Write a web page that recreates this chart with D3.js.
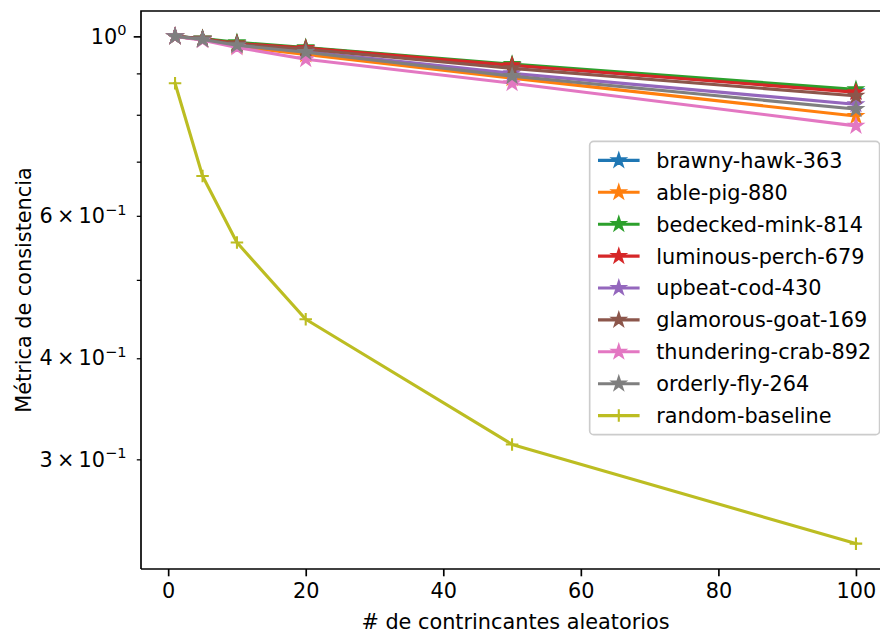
<!DOCTYPE html>
<html>
<head>
<meta charset="utf-8">
<script src="https://cdn.jsdelivr.net/npm/d3@7"></script>
<style>
  html, body { margin: 0; padding: 0; background: #ffffff; }
  svg { display: block; }
  text { font-family: "DejaVu Sans", sans-serif; fill: #000; }
</style>
</head>
<body>
<svg id="chart" width="880" height="634"></svg>
<script>
// ---------------- data ----------------
const xValues = [1, 5, 10, 20, 50, 100];
const seriesNames = [
  "brawny-hawk-363", "able-pig-880", "bedecked-mink-814", "luminous-perch-679",
  "upbeat-cod-430", "glamorous-goat-169", "thundering-crab-892", "orderly-fly-264",
  "random-baseline"
];
const brawnyHawk   = [1.0, 0.993, 0.980, 0.967, 0.921, 0.855];
const ablePig      = [1.0, 0.991, 0.972, 0.950, 0.888, 0.797];
const bedeckedMink = [1.0, 0.994, 0.983, 0.969, 0.924, 0.860];
const luminousPerch= [1.0, 0.993, 0.980, 0.967, 0.921, 0.853];
const upbeatCod    = [1.0, 0.991, 0.975, 0.958, 0.900, 0.824];
const glamorousGoat= [1.0, 0.992, 0.978, 0.964, 0.913, 0.844];
const thunderingCrab=[1.0, 0.989, 0.969, 0.937, 0.875, 0.775];
const orderlyFly   = [1.0, 0.991, 0.975, 0.956, 0.893, 0.813];
const randomBaseline=[0.875, 0.672, 0.556, 0.447, 0.313, 0.236];
const seriesValues = [brawnyHawk, ablePig, bedeckedMink, luminousPerch, upbeatCod,
                      glamorousGoat, thunderingCrab, orderlyFly, randomBaseline];
const seriesColors = ["#1f77b4", "#ff7f0e", "#2ca02c", "#d62728", "#9467bd",
                      "#8c564b", "#e377c2", "#7f7f7f", "#bcbd22"];
const seriesMarkers = ["star","star","star","star","star","star","star","star","plus"];
const xTicks = [0, 20, 40, 60, 80, 100];
const yMajorTicks = [1.0];
const yMinorTicks = [0.3, 0.4, 0.5, 0.6, 0.7, 0.8, 0.9];
const yTickLabels = [
  {v: 1.0, mant: "", exp: "0"},
  {v: 0.6, mant: "6", exp: "\u22121"},
  {v: 0.4, mant: "4", exp: "\u22121"},
  {v: 0.3, mant: "3", exp: "\u22121"}
];
const xLabel = "# de contrincantes aleatorios";
const yLabel = "Métrica de consistencia";

// ---------------- layout ----------------
const FS = 20.8;
const plot = {left: 141, right: 890, top: 11, bottom: 569};
const svg = d3.select("#chart");

// domains with matplotlib-like 5% margins
const xMin = d3.min(xValues), xMax = d3.max(xValues);
const xPad = (xMax - xMin) * 0.05;
const x = d3.scaleLinear().domain([xMin - xPad, xMax + xPad]).range([plot.left, plot.right]);

const allVals = seriesValues.flat();
const lLo = Math.log10(d3.min(allVals)), lHi = Math.log10(d3.max(allVals));
const lPad = (lHi - lLo) * 0.05;
const y = d3.scaleLog().domain([Math.pow(10, lLo - lPad), Math.pow(10, lHi + lPad)])
  .range([plot.bottom, plot.top]);

// clip
svg.append("defs").append("clipPath").attr("id", "clip")
  .append("rect").attr("x", plot.left).attr("y", plot.top)
  .attr("width", plot.right - plot.left).attr("height", plot.bottom - plot.top);

// star path (matplotlib-like, inner ratio 0.381966)
function starPath(r) {
  const ri = r * 0.381966;
  const pts = [];
  for (let i = 0; i < 10; i++) {
    const rr = i % 2 === 0 ? r : ri;
    const a = -Math.PI / 2 + i * Math.PI / 5;
    pts.push([rr * Math.cos(a), rr * Math.sin(a)]);
  }
  return "M" + pts.map(p => p[0].toFixed(2) + "," + p[1].toFixed(2)).join("L") + "Z";
}
const STAR = starPath(6.6);
const PLUS_R = 6.25;

function drawMarker(g, kind, color, cx, cy) {
  if (kind === "star") {
    g.append("path").attr("d", STAR).attr("transform", `translate(${cx},${cy})`)
      .attr("fill", color).attr("stroke", color).attr("stroke-width", 2.08)
      .attr("stroke-linejoin", "miter");
  } else {
    g.append("path")
      .attr("d", `M${cx - PLUS_R},${cy}H${cx + PLUS_R}M${cx},${cy - PLUS_R}V${cy + PLUS_R}`)
      .attr("stroke", color).attr("stroke-width", 2.08).attr("fill", "none");
  }
}

// series
const line = d3.line().x(d => x(d[0])).y(d => y(d[1]));
const dataG = svg.append("g").attr("clip-path", "url(#clip)");
seriesValues.forEach((vals, i) => {
  const pts = xValues.map((xv, j) => [xv, vals[j]]);
  const g = dataG.append("g");
  g.append("path").attr("d", line(pts)).attr("fill", "none")
    .attr("stroke", seriesColors[i]).attr("stroke-width", 3.1)
    .attr("stroke-linejoin", "round").attr("stroke-linecap", "square");
  pts.forEach(p => drawMarker(g, seriesMarkers[i], seriesColors[i], x(p[0]), y(p[1])));
});

// spines
const axG = svg.append("g");
axG.append("path")
  .attr("d", `M${plot.left},${plot.bottom}V${plot.top}H${plot.right + 20}`)
  .attr("fill", "none").attr("stroke", "#000").attr("stroke-width", 1.67);
axG.append("path")
  .attr("d", `M${plot.left},${plot.bottom}H${plot.right + 20}`)
  .attr("fill", "none").attr("stroke", "#000").attr("stroke-width", 1.67);

// x axis ticks
const xAxis = d3.axisBottom(x).tickValues(xTicks).tickSize(7.3).tickPadding(7.3)
  .tickFormat(d3.format("d"));
const xg = svg.append("g").attr("transform", `translate(0,${plot.bottom})`).call(xAxis);
xg.select(".domain").remove();
xg.selectAll(".tick line").attr("stroke", "#000").attr("stroke-width", 1.67);
xg.selectAll(".tick text").attr("font-size", FS).attr("font-family", "DejaVu Sans, sans-serif")
  .attr("fill", "#000");

// y axis ticks: major and minor
const yAxisMajor = d3.axisLeft(y).tickValues(yMajorTicks).tickSize(7.3).tickFormat("");
const ygM = svg.append("g").attr("transform", `translate(${plot.left},0)`).call(yAxisMajor);
ygM.select(".domain").remove();
ygM.selectAll(".tick line").attr("stroke", "#000").attr("stroke-width", 1.67);
const yAxisMinor = d3.axisLeft(y).tickValues(yMinorTicks).tickSize(4.2).tickFormat("");
const ygm = svg.append("g").attr("transform", `translate(${plot.left},0)`).call(yAxisMinor);
ygm.select(".domain").remove();
ygm.selectAll(".tick line").attr("stroke", "#000").attr("stroke-width", 1.25);

// y tick labels (mathtext-like)
const ylabG = svg.append("g");
yTickLabels.forEach(t => {
  const ty = y(t.v);
  const txt = ylabG.append("text").attr("x", plot.left - 7.3 - 7.3).attr("y", ty + 7.2)
    .attr("text-anchor", "end").attr("font-size", FS);
  if (t.mant) txt.append("tspan").text(t.mant + "\u2009\u00d7\u200910");
  else txt.append("tspan").text("10");
  txt.append("tspan").attr("font-size", FS * 0.7).attr("dy", -8.5).text(t.exp);
});

// axis labels
svg.append("text").attr("x", (plot.left + plot.right) / 2).attr("y", 629)
  .attr("text-anchor", "middle").attr("font-size", FS).text(xLabel);
svg.append("text").attr("transform", `translate(31,${(plot.top + plot.bottom) / 2}) rotate(-90)`)
  .attr("text-anchor", "middle").attr("font-size", FS).text(yLabel);

// legend (center right)
const pad = 0.4 * FS, labelSp = 0.5 * FS, handleLen = 2 * FS, handlePad = 0.8 * FS;
const rowH = 21.5;
const legG = svg.append("g");
const frame = legG.append("rect");
const itemsG = legG.append("g");
let maxW = 0;
const texts = seriesNames.map((n, i) => {
  const t = itemsG.append("text").attr("font-size", FS).text(n);
  maxW = Math.max(maxW, t.node().getComputedTextLength());
  return t;
});
const legW = pad + handleLen + handlePad + maxW + pad;
const legH = 2 * pad + seriesNames.length * rowH + (seriesNames.length - 1) * labelSp;
const legRight = plot.right - 0.5 * FS;
const legLeft = legRight - legW;
const legTop = (plot.top + plot.bottom) / 2 - legH / 2 - 2;
frame.attr("x", legLeft).attr("y", legTop).attr("width", legW).attr("height", legH)
  .attr("rx", 4).attr("ry", 4).attr("fill", "#ffffff").attr("fill-opacity", 0.8)
  .attr("stroke", "#cccccc").attr("stroke-width", 1.67);
seriesNames.forEach((n, i) => {
  const cy = legTop + pad + i * (rowH + labelSp) + rowH / 2;
  const x0 = legLeft + pad;
  itemsG.append("path").attr("d", `M${x0},${cy}H${x0 + handleLen}`)
    .attr("stroke", seriesColors[i]).attr("stroke-width", 3.1);
  drawMarker(itemsG, seriesMarkers[i], seriesColors[i], x0 + handleLen / 2, cy);
  texts[i].attr("x", x0 + handleLen + handlePad).attr("y", cy + 7.4).raise();
});
</script>
</body>
</html>
